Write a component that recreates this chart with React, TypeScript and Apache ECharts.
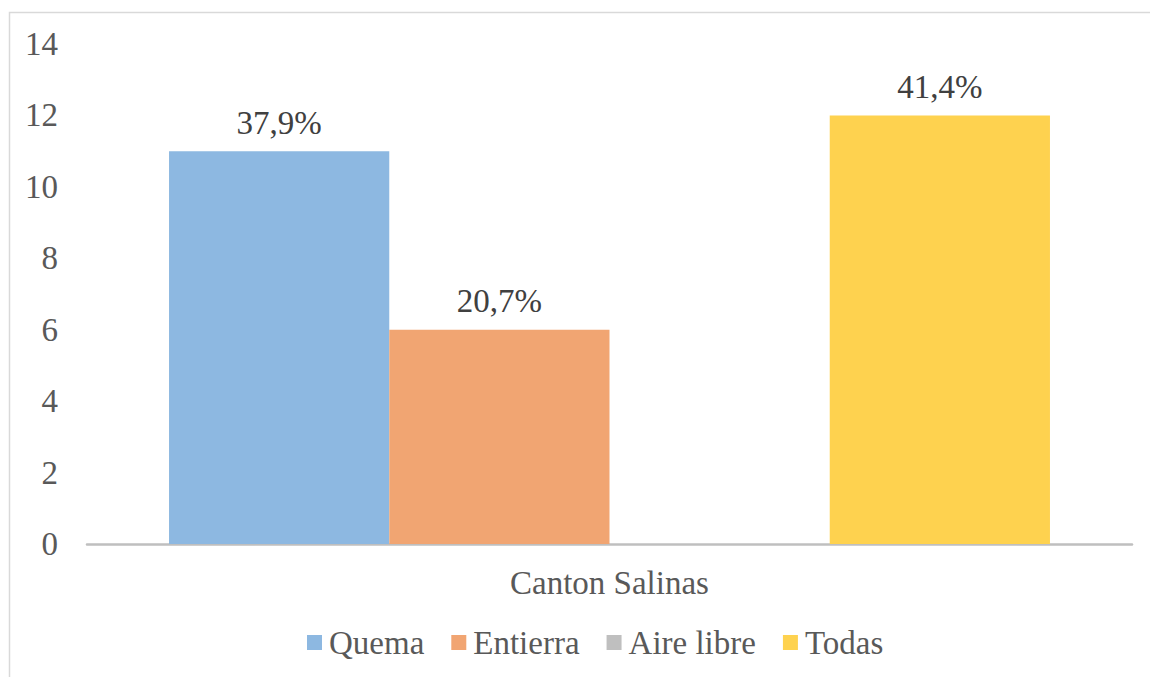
import React, { useEffect, useRef } from "react";
import * as echarts from "echarts";

const categories = ["Canton Salinas"];
const seriesNames = ["Quema", "Entierra", "Aire libre", "Todas"];
const seriesValues = [11, 6, 0, 12];
const seriesLabels = ["37,9%", "20,7%", "", "41,4%"];
const seriesColors = ["#8DB8E1", "#F1A572", "#BFBFBF", "#FED24F"];
const yTicks = { min: 0, max: 14, interval: 2 };

const FONT = "Liberation Serif";
const TEXT = "#595959";

export default function App() {
  const ref = useRef<HTMLDivElement>(null);
  useEffect(() => {
    document.body.style.margin = "0";
    const chart = echarts.init(ref.current!, null, { renderer: "svg" });
    chart.setOption({
      animation: false,
      backgroundColor: "#ffffff",
      textStyle: { fontFamily: FONT },
      graphic: [
        {
          type: "rect",
          shape: { x: 9.5, y: 12.5, width: 1200, height: 700 },
          style: { fill: "none", stroke: "#d9d9d9", lineWidth: 1.5 },
          silent: true,
        },
      ],
      grid: { left: 87, right: 18, top: 44, bottom: 133, containLabel: false },
      xAxis: {
        type: "category",
        data: categories,
        axisLine: { lineStyle: { color: "#BFBFBF", width: 2.5 } },
        axisTick: { show: false },
        axisLabel: { color: TEXT, fontFamily: FONT, fontSize: 33, margin: 22 },
      },
      yAxis: {
        type: "value",
        min: yTicks.min,
        max: yTicks.max,
        interval: yTicks.interval,
        splitLine: { show: false },
        axisLine: { show: false },
        axisTick: { show: false },
        axisLabel: { color: TEXT, fontFamily: FONT, fontSize: 33, margin: 29 },
      },
      legend: {
        left: 302,
        top: 621,
        itemWidth: 15,
        itemHeight: 15,
        itemGap: 27,
        icon: "rect",
        textStyle: { color: TEXT, fontFamily: FONT, fontSize: 33, padding: [0, 0, 0, 2] },
        data: seriesNames,
      },
      series: seriesNames.map((name, i) => ({
        name,
        type: "bar",
        barGap: "0%",
        barCategoryGap: "15.7%",
        itemStyle: { color: seriesColors[i] },
        label: {
          show: seriesLabels[i] !== "",
          position: "top",
          distance: 12,
          color: "#404040",
          fontFamily: FONT,
          fontSize: 33,
          formatter: () => seriesLabels[i],
        },
        data: [seriesValues[i]],
      })),
    });
    return () => chart.dispose();
  }, []);
  return <div ref={ref} style={{ width: 1150, height: 677 }} />;
}
